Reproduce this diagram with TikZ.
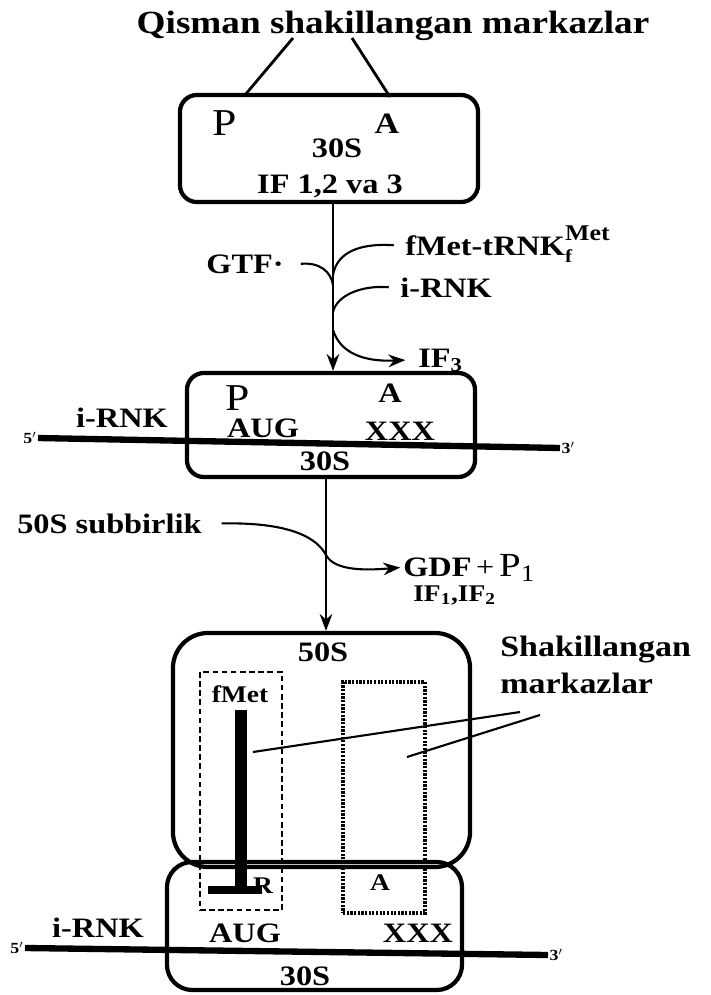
\documentclass[tikz,border=0pt]{standalone}
\usepackage{fontspec}
\setmainfont{Liberation Serif}[FakeStretch=1.15]
\usetikzlibrary{positioning,arrows.meta,calc}

\begin{document}
\begin{tikzpicture}[x=0.025cm, y=-0.025cm,
  sub/.style={draw, line width=3pt, rounded corners=12pt, inner sep=0pt},
  head/.style={font=\fontsize{23}{25}\selectfont\bfseries, inner sep=0pt},
  lab/.style={font=\fontsize{20}{26}\selectfont\bfseries, inner sep=0pt},
  big/.style={font=\fontsize{27}{29}\selectfont, inner sep=0pt},
  small/.style={font=\fontsize{17}{19}\selectfont\bfseries, inner sep=0pt},
  prime/.style={font=\fontsize{11}{12}\selectfont\bfseries, inner sep=0pt},
  arr/.style={line width=1.5pt, -{Stealth[length=12pt,width=9pt]}},
  link/.style={line width=1.5pt},
  mrna/.style={line width=4.5pt},
  site/.style={draw, line width=1.6pt, inner sep=0pt}]
\useasboundingbox (0,0) rectangle (711,995);

\node[head, anchor=base] (title) at (393,33) {Qisman shakillangan markazlar};
\node[sub, minimum width=7.45cm, minimum height=2.675cm] (r1) at (329,148.5) {};
\node[big, anchor=base] (p1) at (225,135) {P};
\node[lab, font=\fontsize{21}{23}\selectfont\bfseries, anchor=base] (a1) at (387,133) {A};
\node[lab, anchor=base] (s1) at (337,157) {30S};
\node[lab, anchor=base] (if1) at (330,193) {IF 1,2 va 3};
\coordinate (t1) at (293,38);
\coordinate (t2) at (352,38);
\coordinate (k1) at (245,95);
\coordinate (k2) at (390,97);
\draw[line width=2pt] (t1) -- (k1);
\draw[line width=2pt] (t2) -- (k2);

\node[sub, minimum width=7.2cm, minimum height=2.6cm] (r2) at (331,425) {};
\coordinate (ax) at (333,0);
\draw[arr] (ax |- r1.south) -- (ax |- r2.north);
\coordinate (jg) at (333,285);
\coordinate (jf) at (333,275);
\coordinate (ji) at (333,312);
\coordinate (jo) at (333,330);
\node[lab, anchor=base] (gtf) at (245,273) {GTF·};
\node[lab, anchor=base west] (fmet) at (405,255) {fMet-tRNK\smash{\rlap{\raisebox{10pt}{\fontsize{16}{16}\selectfont Met}}\raisebox{-5pt}{\fontsize{13}{13}\selectfont f}}};
\node[lab, anchor=base west] (irnk) at (400,297) {i-RNK};
\node[lab, anchor=base west] (if3) at (418,367) {IF\textsubscript{3}};
\draw[link] ([xshift=12pt]gtf.east) .. controls (320,262) and (331,272) .. (jg);
\draw[link] ([xshift=-8pt]fmet.west) .. controls (360,243) and (337,252) .. (jf);
\draw[link] ([xshift=-8pt]irnk.west) .. controls (362,285) and (337,295) .. (ji);
\draw[arr] (jo) .. controls (340,352) and (362,362) .. ([xshift=-9pt]if3.west);

\node[big, anchor=base] (p2) at (238,410) {P};
\node[lab, anchor=base] (a2) at (390,402) {A};
\node[lab, anchor=base] (aug2) at (263,437) {AUG};
\node[lab, anchor=base] (xxx2) at (400,440) {XXX};
\node[lab, anchor=base] (s2) at (325,470) {30S};
\node[lab, anchor=base] (rnk2) at (122,427) {i-RNK};
\coordinate (e5) at (38,438);
\coordinate (e3) at (560,448);
\draw[mrna] (e5) -- (e3);
\node[prime, left=1pt of e5] {5$'$};
\node[prime, right=1pt of e3] {3$'$};

\node[sub, rounded corners=25pt, minimum width=7.425cm, minimum height=5.85cm] (r3) at (321.5,750) {};
\node[sub, rounded corners=18pt, minimum width=7.375cm, minimum height=3.2cm] (r4) at (314.5,926) {};
\coordinate (bx) at (326,0);
\coordinate (jb) at (326,555);
\draw[arr] (bx |- r2.south) -- (bx |- r3.north);
\node[lab, anchor=base west] (sb) at (17,533) {50S subbirlik};
\node[lab, anchor=base west] (gdf) at (403,576) {GDF{\mdseries\,+\,\fontsize{24}{26}\selectfont P\textsubscript{1}}};
\node[small, anchor=base west] (if12) at (413,601) {IF\textsubscript{1},IF\textsubscript{2}};
\draw[arr] ([xshift=14pt]sb.east) .. controls (295,522) and (318,540) .. (jb) .. controls (335,572) and (370,570) .. ([xshift=-2pt]gdf.west);

\node[lab, anchor=base] (s3) at (323,661) {50S};
\node[site, dash pattern=on 4pt off 2.5pt, minimum width=2.05cm, minimum height=5.95cm] (ps) at (241,791) {};
\node[site, densely dotted, line width=2.4pt, minimum width=2.05cm, minimum height=5.775cm] (as) at (384,797.5) {};
\node[small, anchor=base] (fm) at (240,702) {fMet};
\fill (235,710) rectangle (247,893);
\fill (208,886) rectangle (262,894);
\node[small, anchor=base] (rr) at (263,893) {R};
\node[small, anchor=base] (a3) at (380,890) {A};
\node[lab, anchor=base] (aug3) at (245,942) {AUG};
\node[lab, anchor=base] (xxx3) at (418,942) {XXX};
\node[lab, anchor=base] (s4) at (305,985) {30S};
\node[lab, anchor=base] (rnk3) at (98,937) {i-RNK};
\coordinate (f5) at (25,948);
\coordinate (f3) at (548,955);
\draw[mrna] (f5) -- (f3);
\node[prime, left=1pt of f5] {5$'$};
\node[prime, right=1pt of f3] {3$'$};

\node[lab, font=\fontsize{21}{26}\selectfont\bfseries, anchor=north west, align=left] (shak) at (500,636) {Shakillangan\\markazlar};
\coordinate (m1) at (520,712);
\coordinate (m2) at (540,715);
\coordinate (l1) at (253,752);
\coordinate (l2) at (407,757);
\draw[link] (m1) -- (l1);
\draw[link] (m2) -- (l2);
\end{tikzpicture}
\end{document}
